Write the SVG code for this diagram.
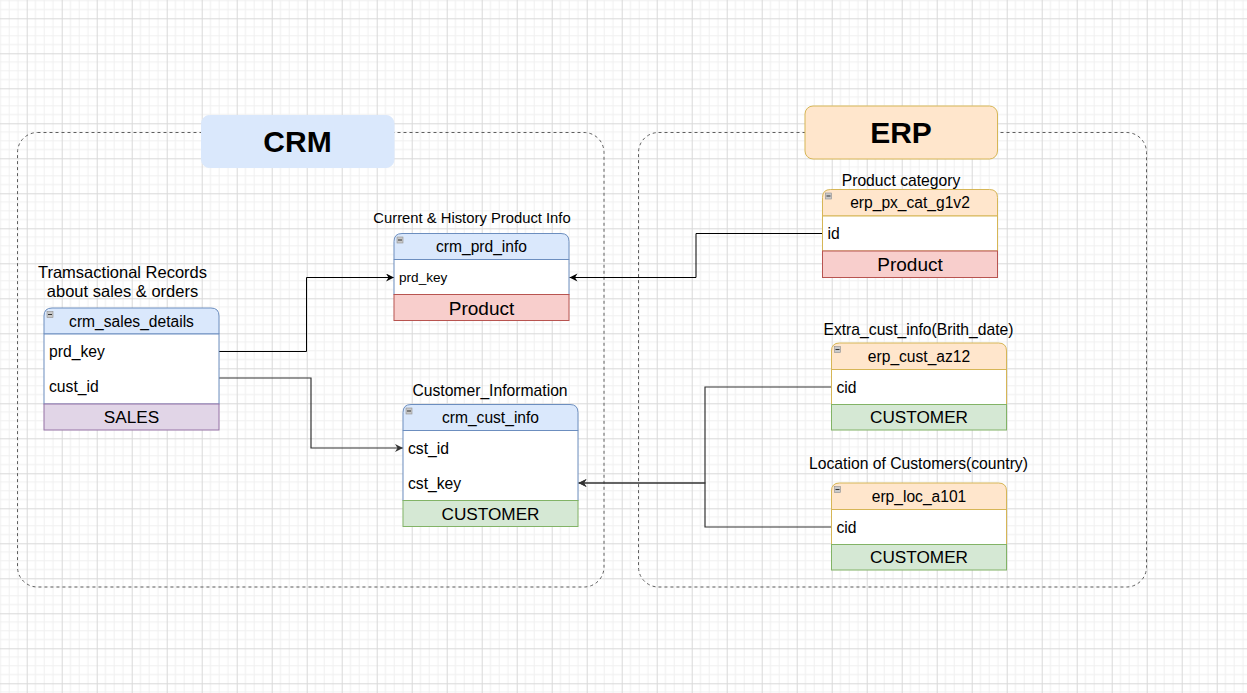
<svg xmlns="http://www.w3.org/2000/svg" width="1247" height="693" viewBox="0 0 1247 693">
<defs>
<pattern id="grid" patternUnits="userSpaceOnUse" x="26.7" y="18.3" width="35" height="35">
<rect width="35" height="35" fill="#ffffff"/>
<path d="M8.75,0V35M17.5,0V35M26.25,0V35M0,8.75H35M0,17.5H35M0,26.25H35" stroke="#f0f0f0" stroke-width="1" fill="none"/>
<path d="M0.5,0V35M0,0.5H35" stroke="#d9d9d9" stroke-width="1" fill="none"/>
</pattern>
<marker id="arr" markerUnits="userSpaceOnUse" markerWidth="10" markerHeight="10" refX="8" refY="4" orient="auto">
<path d="M0,0 L8,4 L0,8 L2.5,4 Z" fill="#000"/>
</marker>
<marker id="arr2" markerUnits="userSpaceOnUse" markerWidth="10" markerHeight="10" refX="8" refY="4" orient="auto">
<path d="M0,0 L8,4 L0,8 L2.5,4 Z" fill="#333"/>
</marker>
</defs>
<style>
text{font-family:"Liberation Sans",Arial,sans-serif;fill:#000}
.container{fill:none;stroke:#5e5e5e;stroke-width:1;stroke-dasharray:3 3}
.hb{fill:#dae8fc;stroke:#6c8ebf;stroke-width:1}
.ho{fill:#ffe6cc;stroke:#d6b656;stroke-width:1}
.bb{fill:#ffffff;stroke:#6c8ebf;stroke-width:1}
.bo{fill:#ffffff;stroke:#d6b656;stroke-width:1}
.red{fill:#f8cecc;stroke:#b85450;stroke-width:1}
.green{fill:#d5e8d4;stroke:#82b366;stroke-width:1}
.purple{fill:#e1d5e7;stroke:#9673a6;stroke-width:1}
.icon{fill:#c8c8c8;stroke:#909090;stroke-width:0.6}
.icond{stroke:#333;stroke-width:1}
.ht{font-size:15.6px;text-anchor:middle;dominant-baseline:central}
.rt{font-size:15.7px;dominant-baseline:central}
.rts{font-size:13.6px;dominant-baseline:central}
.bt{font-size:17.2px;text-anchor:middle;dominant-baseline:central}
.bt2{font-size:19px;text-anchor:middle;dominant-baseline:central}
.lbl{font-size:15.7px;text-anchor:middle;dominant-baseline:central}
.title{font-size:30px;font-weight:bold;text-anchor:middle}
.edge{fill:none;stroke:#000;stroke-width:1}
.edge2{fill:none;stroke:#333;stroke-width:1.2}
</style>
<rect width="1247" height="693" fill="url(#grid)"/>

<g id="crm-container">
<rect class="container" x="17.5" y="132.5" width="586.5" height="454.5" rx="20" ry="20"/>
<rect x="201.5" y="115.5" width="192.5" height="52" rx="8" ry="8" fill="#dae8fc" stroke="#dae8fc"/>
<text class="title" x="297.5" y="151.5">CRM</text>
</g>

<g id="erp-container">
<rect class="container" x="638.5" y="132.5" width="508" height="454.5" rx="20" ry="20"/>
<rect x="805" y="106" width="192.5" height="53" rx="8" ry="8" fill="#ffe6cc" stroke="#d6b656"/>
<text class="title" x="901" y="142.5">ERP</text>
</g>

<g id="labels">
<text class="lbl" x="122.5" y="271.5" style="font-size:16.5px">Tramsactional Records</text>
<text class="lbl" x="122.5" y="291" style="font-size:16.5px">about sales &amp; orders</text>
<text class="lbl" x="472" y="217.5" style="font-size:14.8px">Current &amp; History Product Info</text>
<text class="lbl" x="490" y="390.5">Customer_Information</text>
<text class="lbl" x="901" y="180.5">Product category</text>
<text class="lbl" x="918.5" y="329">Extra_cust_info(Brith_date)</text>
<text class="lbl" x="918.5" y="463">Location of Customers(country)</text>
</g>

<g id="connectors">
<path class="edge" d="M219,351.5 H306.5 V277.5 H394" marker-end="url(#arr)"/>
<path class="edge2" d="M219,378 H311 V448 H403" marker-end="url(#arr2)"/>
<path class="edge" d="M822.5,233.5 H696 V277.5 H569.5" marker-end="url(#arr)"/>
<path class="edge2" d="M831.5,387 H705 V483 H578.5" marker-end="url(#arr2)"/>
<path class="edge2" d="M831.5,527 H705 V483 H578.5" marker-end="url(#arr2)"/>
</g>

<g id="crm_sales_details" transform="translate(44,308)">
<path class="hb" d="M0,26 V8 Q0,0 8,0 H167 Q175,0 175,8 V26 Z"/>
<rect class="bb" x="0" y="26" width="175" height="70"/>
<rect class="purple" x="0" y="96" width="175" height="26"/>
<rect class="icon" x="3" y="3.5" width="6" height="6"/><path class="icond" d="M4,6.5 H8"/>
<text class="ht" x="87.5" y="13">crm_sales_details</text>
<text class="rt" x="5" y="43.5">prd_key</text>
<text class="rt" x="5" y="78.5">cust_id</text>
<text class="bt" x="87.5" y="109">SALES</text>
</g>

<g id="crm_prd_info" transform="translate(394,233.5)">
<path class="hb" d="M0,26 V8 Q0,0 8,0 H167 Q175,0 175,8 V26 Z"/>
<rect class="bb" x="0" y="26" width="175" height="35"/>
<rect class="red" x="0" y="61" width="175" height="26"/>
<rect class="icon" x="3" y="3.5" width="6" height="6"/><path class="icond" d="M4,6.5 H8"/>
<text class="ht" x="87.5" y="13">crm_prd_info</text>
<text class="rts" x="5" y="44">prd_key</text>
<text class="bt2" x="87.5" y="74.5">Product</text>
</g>

<g id="crm_cust_info" transform="translate(403,404.5)">
<path class="hb" d="M0,26 V8 Q0,0 8,0 H167 Q175,0 175,8 V26 Z"/>
<rect class="bb" x="0" y="26" width="175" height="70"/>
<rect class="green" x="0" y="96" width="175" height="26"/>
<rect class="icon" x="3" y="3.5" width="6" height="6"/><path class="icond" d="M4,6.5 H8"/>
<text class="ht" x="87.5" y="13">crm_cust_info</text>
<text class="rt" x="5" y="43.5">cst_id</text>
<text class="rt" x="5" y="78.5">cst_key</text>
<text class="bt" x="87.5" y="109">CUSTOMER</text>
</g>

<g id="erp_px_cat_g1v2" transform="translate(822.5,189.5)">
<path class="ho" d="M0,26.5 V8 Q0,0 8,0 H167 Q175,0 175,8 V26.5 Z"/>
<rect class="bo" x="0" y="26.5" width="175" height="35"/>
<rect class="red" x="0" y="61.5" width="175" height="26.5"/>
<rect class="icon" x="3" y="3.5" width="6" height="6"/><path class="icond" d="M4,6.5 H8"/>
<text class="ht" x="87.5" y="13">erp_px_cat_g1v2</text>
<text class="rt" x="5" y="44">id</text>
<text class="bt2" x="87.5" y="75">Product</text>
</g>

<g id="erp_cust_az12" transform="translate(831.5,343)">
<path class="ho" d="M0,26.5 V8 Q0,0 8,0 H167 Q175,0 175,8 V26.5 Z"/>
<rect class="bo" x="0" y="26.5" width="175" height="35"/>
<rect class="green" x="0" y="61.5" width="175" height="25.5"/>
<rect class="icon" x="3" y="3.5" width="6" height="6"/><path class="icond" d="M4,6.5 H8"/>
<text class="ht" x="87.5" y="13">erp_cust_az12</text>
<text class="rt" x="5" y="44">cid</text>
<text class="bt" x="87.5" y="74">CUSTOMER</text>
</g>

<g id="erp_loc_a101" transform="translate(831.5,483)">
<path class="ho" d="M0,26.5 V8 Q0,0 8,0 H167 Q175,0 175,8 V26.5 Z"/>
<rect class="bo" x="0" y="26.5" width="175" height="35"/>
<rect class="green" x="0" y="61.5" width="175" height="25.5"/>
<rect class="icon" x="3" y="3.5" width="6" height="6"/><path class="icond" d="M4,6.5 H8"/>
<text class="ht" x="87.5" y="13">erp_loc_a101</text>
<text class="rt" x="5" y="44">cid</text>
<text class="bt" x="87.5" y="74">CUSTOMER</text>
</g>
</svg>
